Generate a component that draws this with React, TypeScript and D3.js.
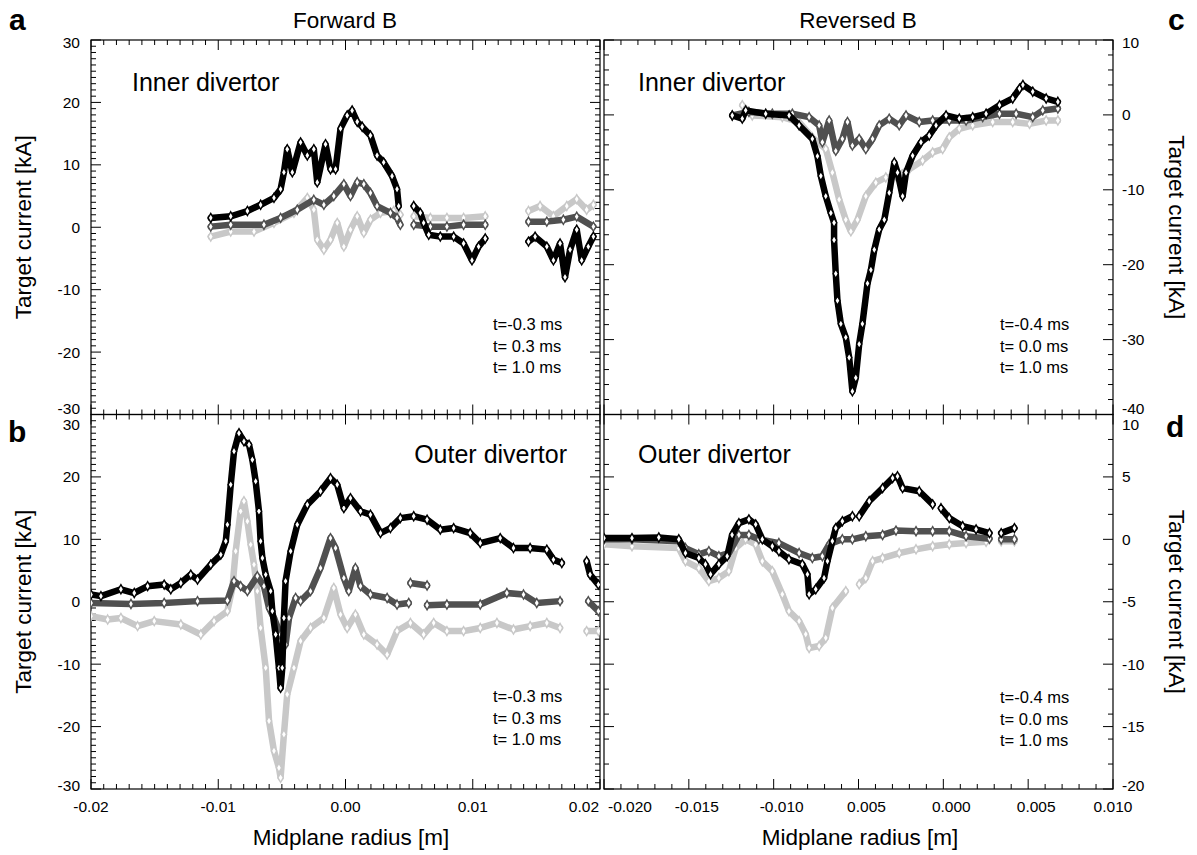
import React, { useEffect, useRef } from "react";
import * as d3 from "d3";

type Pt = [number, number] | null;

// x in m, y in kA ; null = gap in the trace
const aBlack: Pt[] = [[-0.01059,1.5],[-0.00902,1.75],[-0.00771,2.6],[-0.00667,3.6],[-0.00562,4.7],[-0.0051,6.1],[-0.00484,8.8],[-0.00458,12.5],[-0.00418,8.8],[-0.00353,13.6],[-0.003,11.5],[-0.00249,12.5],[-0.00222,7.2],[-0.00157,13.3],[-0.00118,9.3],[-0.00078,9.3],[-0.00039,15.8],[0.00013,17.9],[0.00052,18.7],[0.00092,16.9],[0.00131,16.1],[0.00196,14.7],[0.00248,11.5],[0.003,10.4],[0.00366,8.2],[0.00405,6.1],[0.00418,3.4],null,[0.00536,3.4],[0.00588,2.3],[0.00614,0.7],[0.00654,-1.2],[0.00745,-1.5],[0.0085,-1.5],[0.00928,-2.6],[0.00994,-5.3],[0.01046,-3.1],[0.01098,-1.8],null,[0.01438,-2.3],[0.0149,-1.5],[0.01582,-3.1],[0.01634,-5.3],[0.01686,-2.6],[0.01725,-8.0],[0.01765,-3.6],[0.01817,-0.4],[0.01856,-5.3],[0.01908,-3.1],[0.01948,-1.5]];
const aDark: Pt[] = [[-0.01059,0.1],[-0.00902,0.4],[-0.00641,0.4],[-0.0051,1.5],[-0.00379,2.8],[-0.00249,4.4],[-0.0017,3.6],[-0.00092,5.0],[-0.00013,6.9],[0.00039,5.0],[0.00092,7.2],[0.00144,6.9],[0.00196,5.5],[0.00248,3.4],[0.00353,2.3],[0.00405,1.5],[0.00431,0.4],null,[0.00536,0.4],[0.00667,0.1],[0.00797,0.1],[0.00928,0.4],[0.01098,0.4],null,[0.01438,0.9],[0.01582,0.9],[0.01712,1.2],[0.01817,1.7],[0.01948,0.1]];
const aLight: Pt[] = [[-0.01059,-1.5],[-0.00902,-0.7],[-0.00719,-0.7],[-0.00562,0.7],[-0.00405,2.3],[-0.003,4.7],[-0.00249,2.8],[-0.00222,-2.0],[-0.0017,-3.6],[-0.00118,-2.0],[-0.00065,0.7],[-0.00013,-3.1],[0.00039,-0.4],[0.00092,1.75],[0.00144,-0.9],[0.00196,1.2],[0.00275,2.3],[0.00379,2.6],[0.00431,2.0],null,[0.00536,1.75],[0.00667,1.5],[0.00797,1.5],[0.00928,1.5],[0.01098,1.75],null,[0.01438,2.6],[0.01529,3.4],[0.01634,1.75],[0.01739,3.4],[0.01817,4.5],[0.01895,2.8],[0.01948,3.6]];

const bBlack: Pt[] = [[-0.02,1.15],[-0.01922,0.9],[-0.01765,2.0],[-0.0166,1.4],[-0.01555,2.5],[-0.01425,2.75],[-0.01373,2.0],[-0.01294,3.0],[-0.01216,4.35],[-0.01163,3.55],[-0.01059,5.95],[-0.0098,7.55],[-0.00941,9.7],[-0.00928,12.35],[-0.00902,18.75],[-0.00876,24.1],[-0.00837,27.0],[-0.00798,25.7],[-0.00758,25.15],[-0.00732,22.75],[-0.00706,19.3],[-0.0068,14.5],[-0.00667,9.7],[-0.00653,7.0],[-0.00627,4.35],[-0.00588,1.7],[-0.00575,-1.5],[-0.00549,-5.25],[-0.00523,-10.6],[-0.0051,-13.8],[-0.00497,-10.6],[-0.00484,-2.6],[-0.00471,3.3],[-0.00431,8.1],[-0.00379,12.35],[-0.003,15.55],[-0.00196,17.7],[-0.00118,19.8],[-0.00065,18.75],[-0.00013,15.0],[0.00039,16.6],[0.00118,14.5],[0.00196,13.95],[0.00275,11.0],[0.00353,11.8],[0.00431,13.4],[0.00536,13.7],[0.00641,13.15],[0.00745,11.55],[0.0085,11.8],[0.0098,11.0],[0.01059,9.4],[0.01216,10.2],[0.0132,8.6],[0.01451,8.6],[0.01582,8.35],[0.01634,6.75],[0.017,6.2],null,[0.01895,6.5],[0.01922,4.35],[0.01987,2.75]];
const bDark: Pt[] = [[-0.02,-0.2],[-0.01686,-0.35],[-0.01425,-0.2],[-0.01163,0.1],[-0.00928,0.2],[-0.00876,3.3],[-0.00824,2.5],[-0.00771,1.7],[-0.00693,4.1],[-0.00641,2.5],[-0.00601,-1.0],[-0.00562,-2.6],[-0.0051,-5.25],[-0.00471,-6.85],[-0.00444,-2.6],[-0.00392,0.6],[-0.00353,0.1],[-0.00275,1.7],[-0.00196,5.4],[-0.00118,10.2],[-0.00078,8.6],[-0.00013,3.8],[0.00026,1.7],[0.00078,5.4],[0.00118,2.5],[0.00196,1.15],[0.00327,0.6],[0.00405,-0.45],[0.00497,-0.2],null,[0.0051,3.0],[0.00641,2.6],null,[0.00641,-0.55],[0.00797,-0.45],[0.01059,-0.45],[0.01268,1.4],[0.01399,1.15],[0.01503,-0.2],[0.01686,0.1],null,[0.01908,0.1],[0.01987,-1.5]];
const bLight: Pt[] = [[-0.02,-2.3],[-0.01869,-2.85],[-0.01765,-2.6],[-0.01634,-3.9],[-0.01503,-3.1],[-0.01294,-3.65],[-0.01137,-5.25],[-0.01033,-3.1],[-0.00928,-1.5],[-0.00889,2.2],[-0.00863,8.1],[-0.00824,14.5],[-0.00798,16.1],[-0.00771,12.9],[-0.00745,9.15],[-0.00719,5.95],[-0.00693,1.7],[-0.00667,-4.2],[-0.00627,-10.6],[-0.00601,-19.1],[-0.00562,-23.9],[-0.00523,-26.6],[-0.0051,-28.2],[-0.00484,-21.25],[-0.00458,-14.85],[-0.00405,-10.6],[-0.00353,-6.3],[-0.00275,-4.2],[-0.0017,-2.6],[-0.00092,2.2],[-0.00039,-2.05],[0.00013,-4.2],[0.00078,-2.05],[0.00144,-5.25],[0.00248,-6.85],[0.00327,-8.45],[0.00405,-4.7],[0.0051,-3.4],[0.00614,-5.25],[0.00693,-3.4],[0.00797,-4.7],[0.00928,-4.7],[0.01059,-4.2],[0.0119,-3.4],[0.0132,-4.45],[0.01451,-3.9],[0.01582,-3.4],[0.01686,-4.2],null,[0.01895,-4.7],[0.01987,-4.7]];

const cBlack: Pt[] = [[-0.01244,-0.07],[-0.01185,-0.5],[-0.01165,0.6],[-0.01047,0.15],[-0.00909,-0.07],[-0.0085,-1.4],[-0.00772,-3.2],[-0.00742,-5.5],[-0.00722,-8.15],[-0.00693,-10.85],[-0.00663,-13.1],[-0.00644,-14.4],[-0.00644,-16.7],[-0.00634,-21.2],[-0.00624,-24.8],[-0.00604,-27.9],[-0.00575,-29.7],[-0.00555,-32.4],[-0.00536,-36.9],[-0.00516,-35.1],[-0.00496,-30.6],[-0.00477,-27.9],[-0.00447,-22.5],[-0.00427,-20.7],[-0.00407,-18.0],[-0.00378,-15.3],[-0.00348,-14.0],[-0.00319,-10.4],[-0.00289,-6.35],[-0.0027,-7.7],[-0.0024,-10.85],[-0.0022,-7.7],[-0.00181,-5.45],[-0.00132,-3.65],[-0.00083,-2.75],[-0.00043,-1.4],[0.00016,-0.07],[0.00094,-0.5],[0.00173,-0.3],[0.00252,0.15],[0.00331,1.3],[0.00409,2.2],[0.00449,3.5],[0.00469,4.0],[0.00527,3.1],[0.00606,2.2],[0.00675,1.75]];
const cDark: Pt[] = [[-0.01244,-0.07],[-0.01146,0.4],[-0.01008,0.15],[-0.0089,0.15],[-0.00791,-0.3],[-0.00732,-1.4],[-0.00713,-3.65],[-0.00673,-0.75],[-0.00634,-4.8],[-0.00595,-3.2],[-0.00565,-0.95],[-0.00536,-4.1],[-0.00496,-3.2],[-0.00457,-4.55],[-0.00417,-3.2],[-0.00378,-1.4],[-0.00319,-0.5],[-0.0026,-1.4],[-0.0022,-0.07],[-0.00142,-0.95],[-0.00063,-0.75],[0.00035,-0.75],[0.00134,-0.75],[0.00232,-0.3],[0.00331,0.15],[0.00429,0.15],[0.00527,-0.3],[0.00586,0.6],[0.00675,0.85]];
const cLight: Pt[] = [[-0.01185,1.3],[-0.01126,-0.07],[-0.00949,-0.3],[-0.0085,-0.95],[-0.00772,-3.0],[-0.00693,-4.55],[-0.00654,-7.7],[-0.00614,-11.3],[-0.00575,-14.0],[-0.00545,-15.55],[-0.00506,-14.0],[-0.00457,-10.85],[-0.00398,-9.05],[-0.00339,-8.35],[-0.00279,-8.15],[-0.00201,-7.25],[-0.00122,-6.1],[-0.00063,-5.0],[-0.00004,-4.55],[0.00035,-3.0],[0.00094,-1.85],[0.00173,-1.4],[0.00291,-0.95],[0.00409,-0.95],[0.00508,-1.2],[0.00606,-0.75],[0.00675,-0.75]];

const dBlack: Pt[] = [[-0.02,0.1],[-0.01835,0.1],[-0.01677,0.15],[-0.01559,0],[-0.0152,-1.1],[-0.01441,-1.5],[-0.01402,-2.0],[-0.01372,-2.8],[-0.01323,-2.0],[-0.01274,-1.35],[-0.01245,0.35],[-0.01205,1.3],[-0.01146,1.6],[-0.01106,1.2],[-0.01067,0],[-0.01008,-0.55],[-0.00969,-0.95],[-0.0091,-1.6],[-0.00831,-2.0],[-0.00801,-2.8],[-0.00791,-4.4],[-0.00752,-4.0],[-0.00703,-3.1],[-0.00683,-1.75],[-0.00654,-0.15],[-0.00634,0.9],[-0.00595,1.45],[-0.00536,1.85],null,[-0.00496,1.85],[-0.00437,3.05],[-0.00358,4.1],[-0.00299,4.9],[-0.0027,5.05],[-0.0024,4.1],[-0.00142,3.85],[-0.00063,2.8],null,[-0.00014,2.5],[0.00035,1.7],[0.00114,1.05],[0.00193,0.8],[0.00272,0.5],null,[0.00341,0.5],[0.00419,0.9]];
const dDark: Pt[] = [[-0.02,0],[-0.01835,0],[-0.01559,-0.15],[-0.0152,-0.7],[-0.01441,-1.2],[-0.01382,-0.95],[-0.01323,-1.35],[-0.01264,-1.1],[-0.01205,0.35],[-0.01146,0.35],[-0.01087,0],[-0.00969,-0.3],[-0.0085,-1.1],[-0.00772,-1.5],[-0.00713,-1.35],[-0.00673,-0.4],[-0.00595,0],[-0.00536,0],[-0.00457,0.25],[-0.00358,0.35],[-0.00279,0.7],[-0.00161,0.65],[-0.00063,0.65],[0.00035,0.65],[0.00134,0.25],[0.00272,0.05],null,[0.00341,0],[0.00419,0]];
const dLight: Pt[] = [[-0.02,-0.4],[-0.01835,-0.55],[-0.01559,-0.7],[-0.0152,-1.75],[-0.01441,-2.3],[-0.01382,-3.35],[-0.01323,-3.1],[-0.01264,-2.55],[-0.01224,-0.7],[-0.01165,0],[-0.01106,-0.4],[-0.01067,-1.75],[-0.01008,-2.55],[-0.00949,-4.4],[-0.0091,-5.75],[-0.0085,-6.55],[-0.00811,-7.6],[-0.00791,-8.7],[-0.00732,-8.55],[-0.00693,-7.9],[-0.00654,-5.5],[-0.00575,-4.15],null,[-0.00496,-3.6],[-0.00457,-3.1],[-0.00417,-1.75],[-0.00358,-1.5],[-0.0026,-1.1],[-0.00161,-0.8],[-0.00063,-0.55],[0.00035,-0.4],[0.00134,-0.3],[0.00252,-0.2],null,[0.00341,-0.15],[0.00419,-0.15]];

const leftXTicks = [-0.02, -0.01, 0, 0.01, 0.02];
const leftXLabels = ["-0.02", "-0.01", "0.00", "0.01", "0.02"];
const rightXTicks = [-0.02, -0.015, -0.01, -0.005, 0, 0.005, 0.01];
const rightXLabels = ["-0.020", "-0.015", "-0.010", "0.005", "0.000", "0.005", "0.010"];
const abYTicks = [30, 20, 10, 0, -10, -20, -30];
const cYTicks = [10, 0, -10, -20, -30, -40];
const dYTicks = [10, 5, 0, -5, -10, -15, -20];
const legendFwd = ["t=-0.3 ms", "t= 0.3 ms", "t= 1.0 ms"];
const legendRev = ["t=-0.4 ms", "t= 0.0 ms", "t= 1.0 ms"];
const colors = ["#c8c8c8", "#505050", "#000000"]; // drawn light first, black on top

const FONT = "'Liberation Sans', Arial, sans-serif";

export default function App() {
  const ref = useRef<SVGSVGElement>(null);

  useEffect(() => {
    document.body.style.margin = "0";
    const svg = d3.select(ref.current);
    svg.selectAll("*").remove();
    svg.style("font-family", FONT);

    const L = 91, M = 600, M2 = 604, R = 1113;
    const T = 40, MID = 414.5, B = 789;

    const panels = [
      { id: "a", x0: L, x1: M, y0: T, y1: MID, xd: [-0.02, 0.02], yd: [-30, 30], xt: leftXTicks, xl: leftXLabels, xmin: 0.001,
        yt: abYTicks, ymin: 1, side: "left", series: [aLight, aDark, aBlack], name: "Inner divertor", nameX: 132, nameAnchor: "start", nameY: 91, leg: legendFwd, legX: 493, legY: 330, top: true },
      { id: "b", x0: L, x1: M, y0: MID, y1: B, xd: [-0.02, 0.02], yd: [-30, 30], xt: leftXTicks, xl: leftXLabels, xmin: 0.001,
        yt: abYTicks, ymin: 1, side: "left", series: [bLight, bDark, bBlack], name: "Outer divertor", nameX: 567, nameAnchor: "end", nameY: 463, leg: legendFwd, legX: 493, legY: 702, top: false },
      { id: "c", x0: M2, x1: R, y0: T, y1: MID, xd: [-0.02, 0.01], yd: [-40, 10], xt: rightXTicks, xl: rightXLabels, xmin: 0.001,
        yt: cYTicks, ymin: 2, side: "right", series: [cLight, cDark, cBlack], name: "Inner divertor", nameX: 638, nameAnchor: "start", nameY: 91, leg: legendRev, legX: 1000, legY: 330, top: true },
      { id: "d", x0: M2, x1: R, y0: MID, y1: B, xd: [-0.02, 0.01], yd: [-20, 10], xt: rightXTicks, xl: rightXLabels, xmin: 0.001,
        yt: dYTicks, ymin: 2, side: "right", series: [dLight, dDark, dBlack], name: "Outer divertor", nameX: 638, nameAnchor: "start", nameY: 463, leg: legendRev, legX: 1000, legY: 703, top: false },
    ];

    panels.forEach((p) => {
      const x = d3.scaleLinear().domain(p.xd).range([p.x0, p.x1]);
      const y = d3.scaleLinear().domain(p.yd).range([p.y1, p.y0]);
      const g = svg.append("g");

      const clipId = "clip-" + p.id;
      svg.append("clipPath").attr("id", clipId).append("rect")
        .attr("x", p.x0).attr("y", p.y0).attr("width", p.x1 - p.x0).attr("height", p.y1 - p.y0);

      // ticks (inward on all four sides)
      const xMinor = d3.range(Math.round(p.xd[0] / p.xmin), Math.round(p.xd[1] / p.xmin) + 1).map((i) => i * p.xmin);
      const isMajorX = (v: number) => p.xt.some((t) => Math.abs(t - v) < 1e-9);
      xMinor.forEach((v) => {
        const len = isMajorX(v) ? 10 : 5;
        g.append("line").attr("x1", x(v)).attr("x2", x(v)).attr("y1", p.y1).attr("y2", p.y1 - len).attr("stroke", "#000").attr("stroke-width", 1);
        g.append("line").attr("x1", x(v)).attr("x2", x(v)).attr("y1", p.y0).attr("y2", p.y0 + len).attr("stroke", "#000").attr("stroke-width", 1);
      });
      const yMinor = d3.range(Math.round(p.yd[0] / p.ymin), Math.round(p.yd[1] / p.ymin) + 1).map((i) => i * p.ymin);
      const yAll = Array.from(new Set([...yMinor, ...p.yt]));
      yAll.forEach((v) => {
        const len = p.yt.includes(v) ? 10 : 5;
        g.append("line").attr("x1", p.x0).attr("x2", p.x0 + len).attr("y1", y(v)).attr("y2", y(v)).attr("stroke", "#000").attr("stroke-width", 1);
        g.append("line").attr("x1", p.x1).attr("x2", p.x1 - len).attr("y1", y(v)).attr("y2", y(v)).attr("stroke", "#000").attr("stroke-width", 1);
      });

      // frame
      g.append("rect").attr("x", p.x0).attr("y", p.y0).attr("width", p.x1 - p.x0).attr("height", p.y1 - p.y0)
        .attr("fill", "none").attr("stroke", "#000").attr("stroke-width", 1.2);

      // y tick labels
      p.yt.forEach((v, i) => {
        let dy = 0;
        if (i === 0 && !p.top) dy = 10;
        if (i === 0 && p.top) dy = 3;
        if (i === p.yt.length - 1 && p.top) dy = -6;
        if (i === p.yt.length - 1 && !p.top) dy = -3;
        g.append("text")
          .attr("x", p.side === "left" ? 80 : 1122)
          .attr("y", y(v) + dy)
          .attr("dy", "0.35em")
          .attr("text-anchor", p.side === "left" ? "end" : "start")
          .attr("font-size", 15.5)
          .text(String(v));
      });

      // x tick labels (bottom panels only)
      if (!p.top) {
        p.xt.forEach((v, i) => {
          let px = x(v);
          let anchor = "middle";
          if (p.side === "right") {
            if (i === 0) { anchor = "start"; px += 4; }
            else if (i < p.xt.length - 1) px += 8;
          } else if (i === p.xt.length - 1) {
            anchor = "end"; px -= 1;
          }
          g.append("text").attr("x", px).attr("y", 812).attr("text-anchor", anchor)
            .attr("font-size", 15.5).text(p.xl[i]);
        });
      }

      // data
      const dg = g.append("g").attr("clip-path", `url(#${clipId})`);
      const line = d3.line<Pt>()
        .defined((d) => d !== null)
        .x((d) => x((d as [number, number])[0]))
        .y((d) => y((d as [number, number])[1]));
      const sym = d3.symbol().type(d3.symbolDiamond).size(24);
      p.series.forEach((s, si) => {
        const col = colors[si];
        dg.append("path").attr("d", line(s) || "").attr("fill", "none").attr("stroke", col)
          .attr("stroke-width", si === 2 ? 6.5 : 6.5).attr("stroke-linejoin", "round").attr("stroke-linecap", "round");
        dg.selectAll(null).data(s.filter((d) => d !== null) as [number, number][]).join("path")
          .attr("d", sym()!)
          .attr("transform", (d) => `translate(${x(d[0])},${y(d[1])})`)
          .attr("fill", "#fff").attr("stroke", col).attr("stroke-width", 1.4);
      });

      // panel name
      g.append("text").attr("x", p.nameX).attr("y", p.nameY).attr("text-anchor", p.nameAnchor)
        .attr("font-size", 25).text(p.name);

      // time labels
      p.leg.forEach((t, i) => {
        g.append("text").attr("x", p.legX).attr("y", p.legY + i * 21.5).attr("font-size", 16.5)
          .style("white-space", "pre").text(t);
      });

      // y axis title
      const cy = (p.y0 + p.y1) / 2;
      if (p.side === "left") {
        g.append("text").attr("transform", `translate(31,${cy}) rotate(-90)`).attr("text-anchor", "middle")
          .attr("font-size", 22.5).text("Target current [kA]");
      } else {
        g.append("text").attr("transform", `translate(1169,${cy}) rotate(90)`).attr("text-anchor", "middle")
          .attr("font-size", 22.5).text("Target current [kA]");
      }
    });

    // column titles, x titles, panel letters
    svg.append("text").attr("x", 345).attr("y", 28).attr("text-anchor", "middle").attr("font-size", 22.5).text("Forward B");
    svg.append("text").attr("x", 858).attr("y", 28).attr("text-anchor", "middle").attr("font-size", 22.5).text("Reversed B");
    svg.append("text").attr("x", 351).attr("y", 845).attr("text-anchor", "middle").attr("font-size", 22.5).text("Midplane radius [m]");
    svg.append("text").attr("x", 860).attr("y", 845).attr("text-anchor", "middle").attr("font-size", 22.5).text("Midplane radius [m]");
    const letters: [string, number, number][] = [["a", 9, 30], ["b", 8, 442], ["c", 1168, 30], ["d", 1166, 437]];
    letters.forEach(([t, lx, ly]) => {
      svg.append("text").attr("x", lx).attr("y", ly).attr("font-size", 30).attr("font-weight", "bold").text(t);
    });
  }, []);

  return <svg ref={ref} width={1197} height={855} style={{ display: "block", background: "#fff" }} />;
}
